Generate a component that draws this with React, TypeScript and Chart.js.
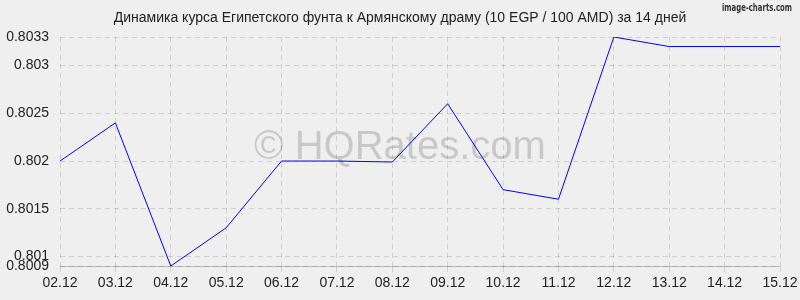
import React, { useEffect, useRef } from "react";
import { Chart, registerables } from "chart.js";

Chart.register(...registerables);

const categories = ["02.12", "03.12", "04.12", "05.12", "06.12", "07.12", "08.12", "09.12", "10.12", "11.12", "12.12", "13.12", "14.12", "15.12"];
const rates = [0.802, 0.8024, 0.8009, 0.8013, 0.802, 0.802, 0.80199, 0.8026, 0.8017, 0.8016, 0.8033, 0.8032, 0.8032, 0.8032];
const yTicks = [0.8009, 0.801, 0.8015, 0.802, 0.8025, 0.803, 0.8033];
const titleText = "Динамика курса Египетского фунта к Армянскому драму (10 EGP / 100 AMD) за 14 дней";
const watermark = "© HQRates.com";
const credit = "image-charts.com";

const FONT = "'Liberation Sans', Arial, sans-serif";

const decorPlugin = {
  id: "decor",
  beforeDraw(chart: any) {
    const ctx = chart.ctx;
    ctx.save();
    ctx.fillStyle = "#efefef";
    ctx.fillRect(0, 0, chart.width, chart.height);
    ctx.restore();
  },
  beforeDatasetsDraw(chart: any) {
    const ctx = chart.ctx;
    const a = chart.chartArea;
    ctx.save();
    ctx.strokeStyle = "rgba(0,0,0,0.2)";
    ctx.lineWidth = 1;
    ctx.beginPath();
    ctx.moveTo(a.left, Math.round(a.bottom) + 0.5);
    ctx.lineTo(a.right, Math.round(a.bottom) + 0.5);
    ctx.stroke();
    ctx.restore();
  },
  afterDatasetsDraw(chart: any) {
    const ctx = chart.ctx;
    ctx.save();
    ctx.fillStyle = "rgba(0,0,0,0.16)";
    ctx.font = `40px ${FONT}`;
    ctx.textAlign = "center";
    ctx.textBaseline = "middle";
    ctx.fillText(watermark, 400, 148);
    ctx.restore();
  },
  afterDraw(chart: any) {
    const ctx = chart.ctx;
    const xs = chart.scales.x;
    const a = chart.chartArea;
    ctx.save();
    ctx.fillStyle = "#222";
    ctx.font = `14px ${FONT}`;
    ctx.textAlign = "center";
    ctx.textBaseline = "middle";
    ctx.fillText(titleText, 400, 18);
    ctx.textAlign = "left";
    categories.forEach((c, i) => {
      const px = xs.getPixelForValue(i);
      const w = ctx.measureText(c).width;
      let left = px - w / 2;
      if (left + w > chart.width - 2) left = chart.width - 2 - w;
      ctx.fillText(c, left, a.bottom + 17);
    });
    ctx.fillStyle = "#333";
    ctx.font = `bold 11px 'DejaVu Sans Condensed', 'DejaVu Sans', sans-serif`;
    ctx.textAlign = "right";
    ctx.fillText(credit, 792, 8, 70);
    ctx.restore();
  },
};

export default function App() {
  const ref = useRef<HTMLCanvasElement>(null);
  useEffect(() => {
    if (!ref.current) return;
    const chart = new Chart(ref.current, {
      type: "line",
      data: {
        labels: categories,
        datasets: [
          {
            data: rates,
            borderColor: "#0000ff",
            borderWidth: 1,
            pointRadius: 0,
            tension: 0,
            fill: false,
          },
        ],
      },
      plugins: [decorPlugin],
      options: {
        animation: false,
        responsive: false,
        devicePixelRatio: 1,
        layout: { padding: { left: 0, right: 20, top: 37, bottom: 0 } },
        plugins: {
          legend: { display: false },
          tooltip: { enabled: false },
          title: { display: false },
        },
        scales: {
          x: {
            type: "category",
            offset: false,
            grid: {
              color: "rgba(0,0,0,0.13)",
              drawTicks: true,
              tickLength: 6,
              tickColor: "rgba(0,0,0,0.13)",
            },
            border: { display: false, dash: [5, 4] },
            ticks: { display: false },
            afterFit(scale: any) {
              scale.height = 34;
            },
          },
          y: {
            min: 0.8009,
            max: 0.8033,
            grid: {
              color: "rgba(0,0,0,0.13)",
              drawTicks: false,
            },
            border: { display: false, dash: [5, 4] },
            afterBuildTicks(scale: any) {
              scale.ticks = yTicks.map((v) => ({ value: v }));
            },
            ticks: {
              color: "#222",
              font: { family: FONT, size: 14 },
              padding: 11,
              callback: (v: any) => String(Number(v)),
            },
            afterFit(scale: any) {
              scale.width = 60;
            },
          },
        },
      } as any,
    });
    return () => chart.destroy();
  }, []);
  return (
    <div style={{ position: "absolute", left: 0, top: 0, width: 800, height: 300 }}>
      <canvas ref={ref} width={800} height={300} style={{ width: 800, height: 300 }} />
    </div>
  );
}
